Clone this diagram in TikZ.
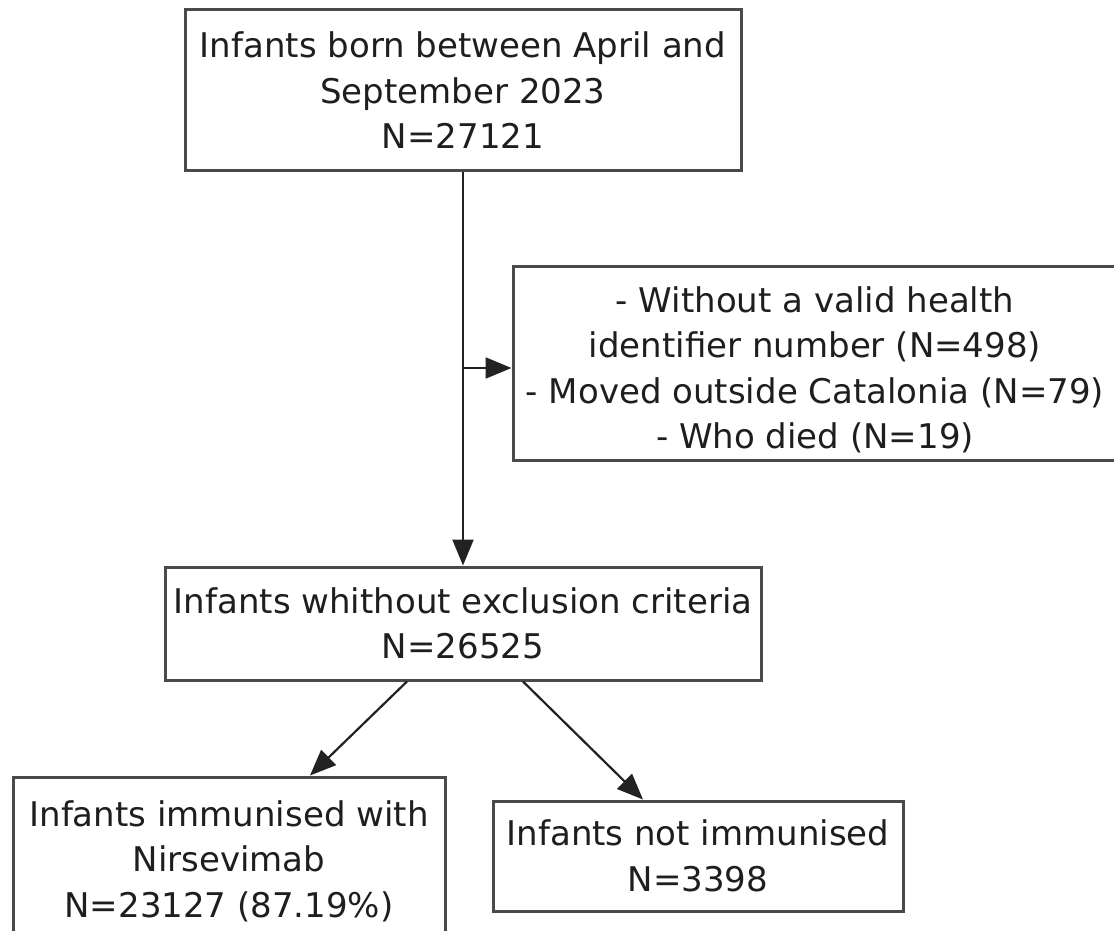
\documentclass[tikz,border=0pt]{standalone}
\usepackage{fontspec}
\setmainfont{DejaVu Sans}
\usetikzlibrary{arrows.meta,calc}
\definecolor{txt}{HTML}{1E1E1E}
\definecolor{edgecol}{HTML}{4A4A4A}
\definecolor{conncol}{HTML}{222222}
\begin{document}
\begin{tikzpicture}[x=1pt,y=-1pt,
  boxfont/.style={text=txt, align=center, font=\fontsize{34}{45.5}\selectfont},
  box/.style={draw=edgecol, line width=3pt, fill=white, inner sep=0pt, boxfont},
  link/.style={draw=conncol, line width=2.2pt, -{Triangle[length=26pt,width=21pt]}}]
\path[use as bounding box] (0,0) rectangle (1114,931);
\clip (0,0) rectangle (1114,931);
\fill[white] (0,0) rectangle (1114,931);

\node[box, minimum width=556pt, minimum height=161pt] (top) at (463,90.5)
  {Infants born between April and\\September 2023\\N=27121};
\node[box, minimum width=604pt, minimum height=194pt] (excl) at (815,363) {};
\node[boxfont, inner sep=0pt] (excltext) at (815,370)
  {- Without a valid health\\identifier number (N=498)\\- Moved outside Catalonia (N=79)\\- Who died (N=19)};
\node[box, minimum width=596pt, minimum height=113pt] (mid) at (463,623.5)
  {Infants whithout exclusion criteria\\N=26525};
\node[box, minimum width=432pt, minimum height=168pt] (imm) at (229,861)
  {Infants immunised with\\Nirsevimab\\N=23127 (87.19\%)};
\node[box, minimum width=410pt, minimum height=110pt] (notimm) at (698,856)
  {Infants not immunised\\N=3398};

\draw[link] (top.south) -- (mid.north);
\coordinate (branch) at (top.south |- 0,368);
\draw[link] (branch) -- (branch -| excl.west);
\draw[link] ($(mid.south)+(-56,0)$) -- ($(imm.north)+(81,0)$);
\draw[link] ($(mid.south)+(60,0)$) -- ($(notimm.north)+(-55,0)$);
\end{tikzpicture}
\end{document}
